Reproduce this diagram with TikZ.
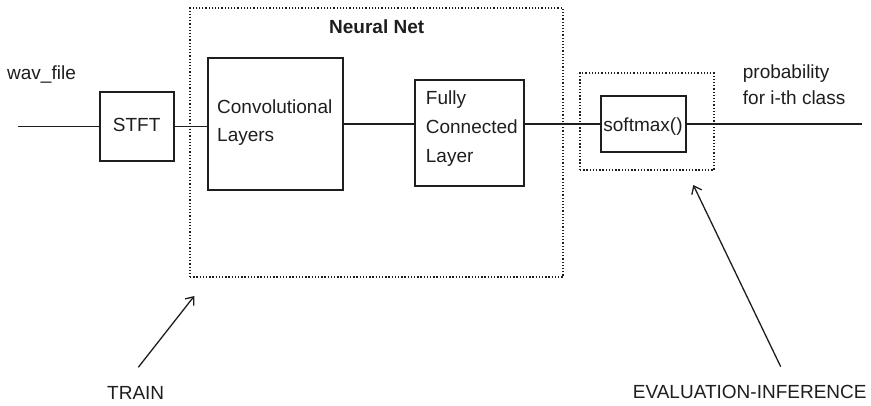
\documentclass[tikz,border=0pt]{standalone}
\usepackage{fontspec}
\setmainfont{Liberation Sans}
\usetikzlibrary{arrows.meta}
\definecolor{ink}{HTML}{1E1E1E}
\begin{document}
\begin{tikzpicture}[x=1pt,y=-1pt,
  every node/.style={text=ink},
  blk/.style={draw=ink, line width=1.6pt, inner sep=0pt},
  dotbox/.style={draw=ink, line width=1.3pt, dash pattern=on 1.3pt off 1.9pt, inner sep=0pt},
  lbl/.style={font=\fontsize{19}{23}\selectfont, inner sep=0pt},
  wire/.style={draw=ink, line width=1.4pt},
  arr/.style={draw=ink, line width=1.3pt, -{Straight Barb[length=7pt,width=11pt,line width=1.3pt]}}]
\useasboundingbox (0,0) rectangle (871,405);
% containers
\node[dotbox, minimum width=373pt, minimum height=269pt] (nn) at (376.5,142.5) {};
\node[dotbox, minimum width=134pt, minimum height=97pt] (smbox) at (647,121.5) {};
\node[lbl, font=\fontsize{19}{23}\selectfont\bfseries, anchor=base] (nntitle) at (376.7,33) {Neural Net};
% blocks
\node[blk, minimum width=74pt, minimum height=69pt] (stft) at (137,126.5) {};
\node[lbl, anchor=base] (stfttxt) at (136.7,131) {STFT};
\node[blk, minimum width=135pt, minimum height=132pt] (conv) at (275.5,124) {};
\node[lbl, anchor=base west] (conv1) at (217,113) {Convolutional};
\node[lbl, anchor=base west] (conv2) at (217,141.7) {Layers};
\node[blk, minimum width=109pt, minimum height=106pt] (fc) at (469.5,133) {};
\node[lbl, anchor=base west] (fc1) at (425.7,104.5) {Fully};
\node[lbl, anchor=base west] (fc2) at (425.7,133.3) {Connected};
\node[lbl, anchor=base west] (fc3) at (425.7,162.3) {Layer};
\node[blk, minimum width=85pt, minimum height=56pt] (sm) at (643.5,124) {};
\node[lbl, anchor=base] (smtxt) at (643,131) {softmax()};
% free labels
\node[lbl, anchor=base west] (wav) at (7,79) {wav\_file};
\node[lbl, anchor=base west] (prob1) at (742.7,78.5) {probability};
\node[lbl, anchor=base west] (prob2) at (742.7,104.3) {for i-th class};
\node[lbl, anchor=base] (train) at (135.7,399) {TRAIN};
\node[lbl, anchor=base] (evalinf) at (749.7,398.5) {EVALUATION-INFERENCE};
% coordinates
\coordinate (in) at (18,126.3);
\coordinate (out) at (862,124);
\coordinate (trs) at (138.3,367.3);
\coordinate (trt) at (194.3,296);
\coordinate (evs) at (780.7,366.7);
\coordinate (evt) at (693.3,185);
% wires
\draw[wire] (in) -- (in -| stft.west);
\draw[wire] (stft.east |- in) -- (in -| conv.west);
\draw[wire] (conv.east) -- (conv.east -| fc.west);
\draw[wire] (sm.west -| fc.east) -- (sm.west);
\draw[wire] (sm.east) -- (out);
% arrows
\draw[arr] (trs) -- (trt);
\draw[arr] (evs) -- (evt);
\end{tikzpicture}
\end{document}
